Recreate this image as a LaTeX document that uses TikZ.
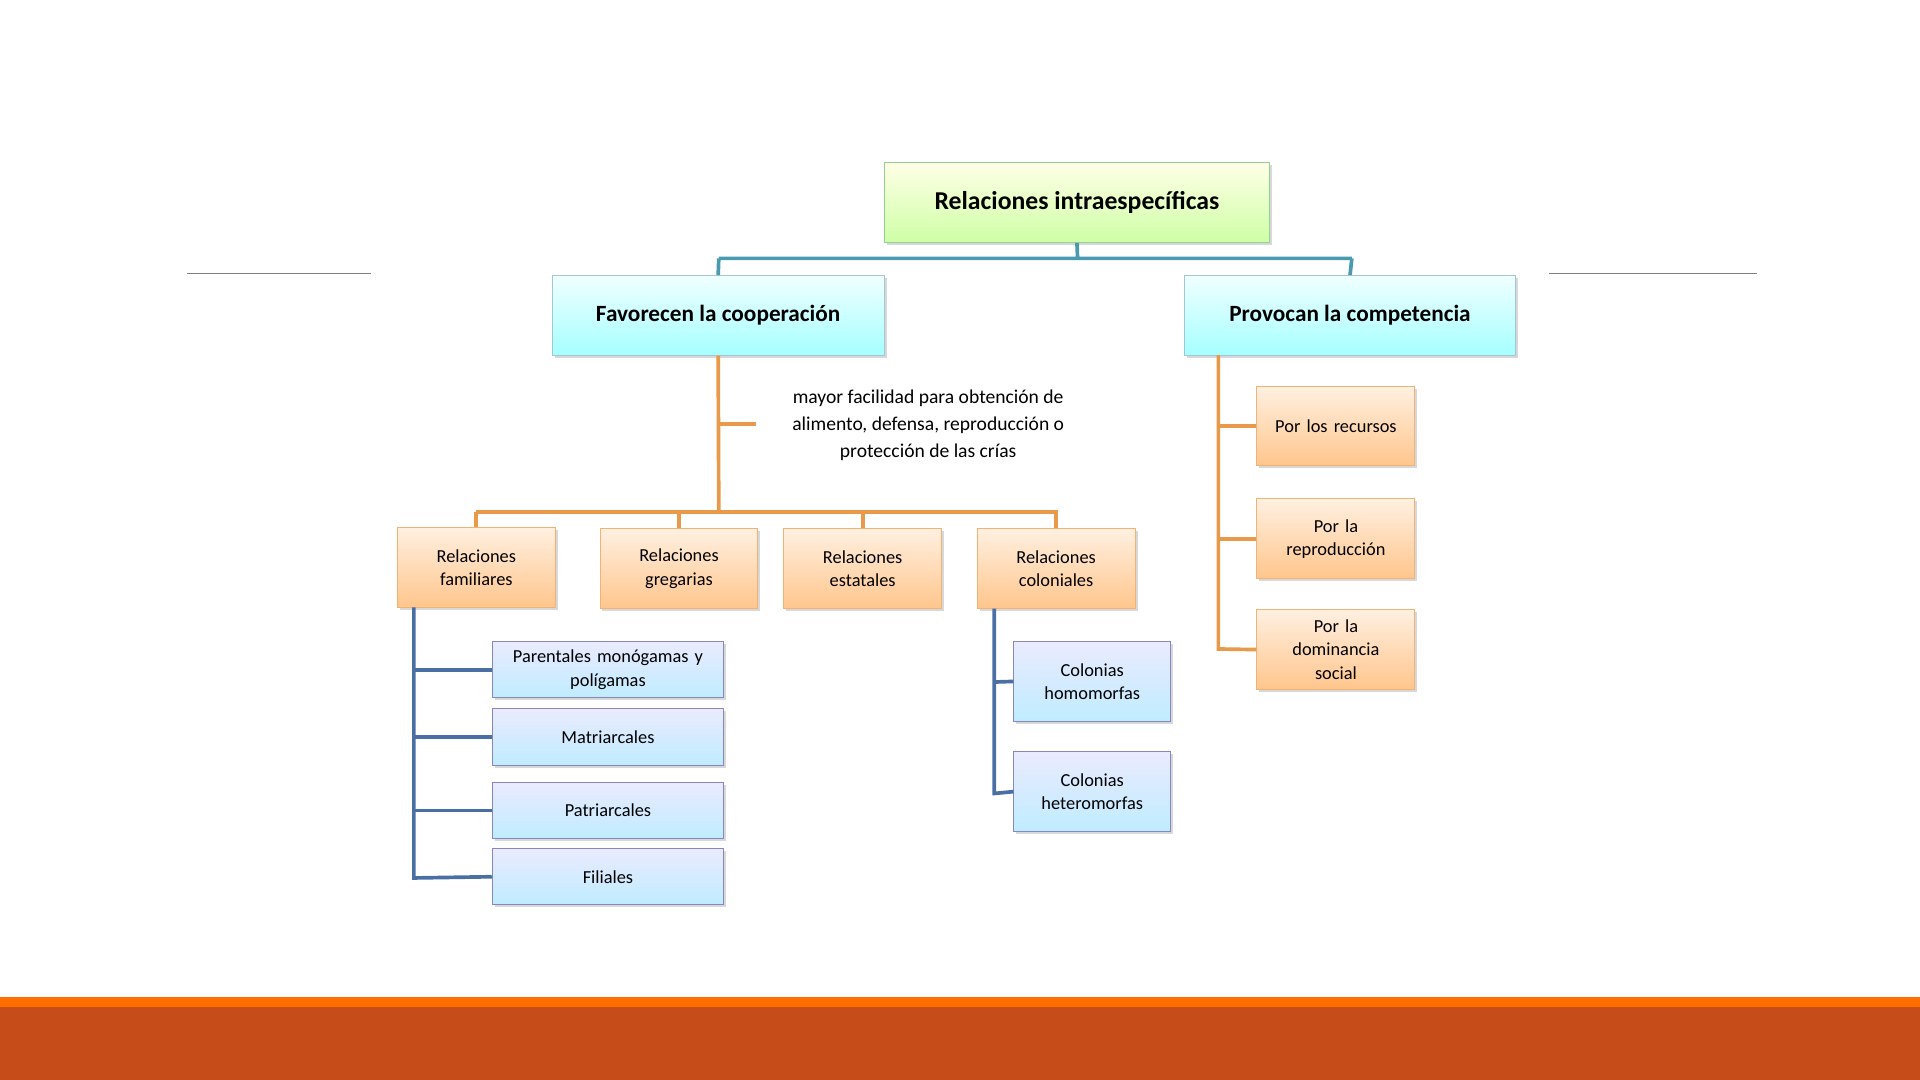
\documentclass[tikz,border=0pt]{standalone}
\usepackage{fontspec}
\setmainfont{Carlito}
\usetikzlibrary{shadows}
\definecolor{teal1}{HTML}{4A9BB0}
\definecolor{org1}{HTML}{E8994A}
\definecolor{blu1}{HTML}{4A6FA5}
\tikzset{
 bx/.style={draw, line width=0.8pt, align=center, inner sep=2pt, font=\fontsize{15}{19}\selectfont,
   drop shadow={shadow xshift=2pt, shadow yshift=-2pt, opacity=0.3}},
 obox/.style={bx, draw=orange!60!brown!60, top color=orange!12, bottom color=orange!45!white, text width=120pt, minimum width=129pt, minimum height=65pt},
 bbox/.style={bx, draw=blue!35!gray!70, top color=blue!8, bottom color=blue!30!cyan!25, text width=182pt, minimum width=189pt, minimum height=46pt},
 cbox/.style={bbox, text width=120pt, minimum width=128pt, minimum height=65pt},
 hbox/.style={bx, draw=cyan!40!gray!60, top color=cyan!6, bottom color=cyan!35, minimum width=271pt, minimum height=65pt, font=\bfseries\fontsize{19}{23}\selectfont},
 gbox/.style={bx, draw=green!40!gray!60, top color=yellow!10, bottom color=green!55!yellow!35, minimum width=315pt, minimum height=65pt, font=\bfseries\fontsize{21}{25}\selectfont},
 tl/.style={teal1, line width=3pt},
 ol/.style={org1, line width=3pt},
 bl/.style={blu1, line width=3pt},
}
\begin{document}
\begin{tikzpicture}[x=1pt,y=-1pt]
\useasboundingbox (0,0) rectangle (1568,882);
\fill[white] (0,0) rectangle (1568,882);
\fill[orange!85!red] (0,814) rectangle (1568,823);
\fill[red!40!orange!75!black!90] (0,822) rectangle (1568,882);
\draw[gray, line width=0.8pt] (153,223) -- (303,223);
\draw[gray, line width=0.8pt] (1265,223) -- (1435,223);
% boxes
\node[gbox] (top) at (879.5,165.5) {Relaciones intraespecíficas};
\node[hbox] (fav) at (586.5,257.5) {Favorecen la cooperación};
\node[hbox] (pro) at (1102.5,257.5) {Provocan la competencia};
\node[align=center, font=\fontsize{16}{22}\selectfont] (txt) at (758,347) {mayor facilidad para obtención de\\alimento, defensa, reproducción o\\protección de las crías};
\node[obox] (fam) at (389,463.5) {Relaciones\\familiares};
\node[obox] (gre) at (554.5,464.5) {Relaciones\\gregarias};
\node[obox] (est) at (704.5,464.5) {Relaciones\\estatales};
\node[obox] (col) at (862.5,464.5) {Relaciones\\coloniales};
\node[bbox] (p1) at (496.5,547) {Parentales monógamas y\\polígamas};
\node[bbox] (p2) at (496.5,602) {Matriarcales};
\node[bbox] (p3) at (496.5,662) {Patriarcales};
\node[bbox] (p4) at (496.5,716) {Filiales};
\node[cbox] (c1) at (892,556.5) {Colonias\\homomorfas};
\node[cbox] (c2) at (892,646.5) {Colonias\\heteromorfas};
\node[obox] (r1) at (1091,348) {Por los recursos};
\node[obox] (r2) at (1091,440) {Por la\\reproducción};
\node[obox] (r3) at (1091,530.5) {Por la\\dominancia\\social};
% connectors
\coordinate (tj) at (880,211);
\draw[tl] (top.south) -- (tj) (587,211) -- (1104,211);
\draw[tl] (587,211) -- (fav.north);
\draw[tl] (1104,211) -- (pro.north);
\draw[ol] (fav.south) -- (587,418);
\draw[ol] (587,346) -- (617,346);
\draw[ol] (389,418) -- (864,418);
\draw[ol] (389,418) -- (fam.north);
\draw[ol] (554.5,418) -- (gre.north);
\draw[ol] (704.5,418) -- (est.north);
\draw[ol] (862.5,418) -- (col.north);
\draw[bl] (338,496) -- (338,717) -- (p4.west);
\draw[bl] (338,547) -- (p1.west);
\draw[bl] (338,602) -- (p2.west);
\draw[bl] (338,662) -- (p3.west);
\draw[bl] (812,497) -- (812,648) -- (c2.west);
\draw[bl] (812,557) -- (c1.west);
\draw[ol] (995,290) -- (995,530) -- (r3.west);
\draw[ol] (995,348) -- (r1.west);
\draw[ol] (995,440) -- (r2.west);
\end{tikzpicture}
\end{document}
